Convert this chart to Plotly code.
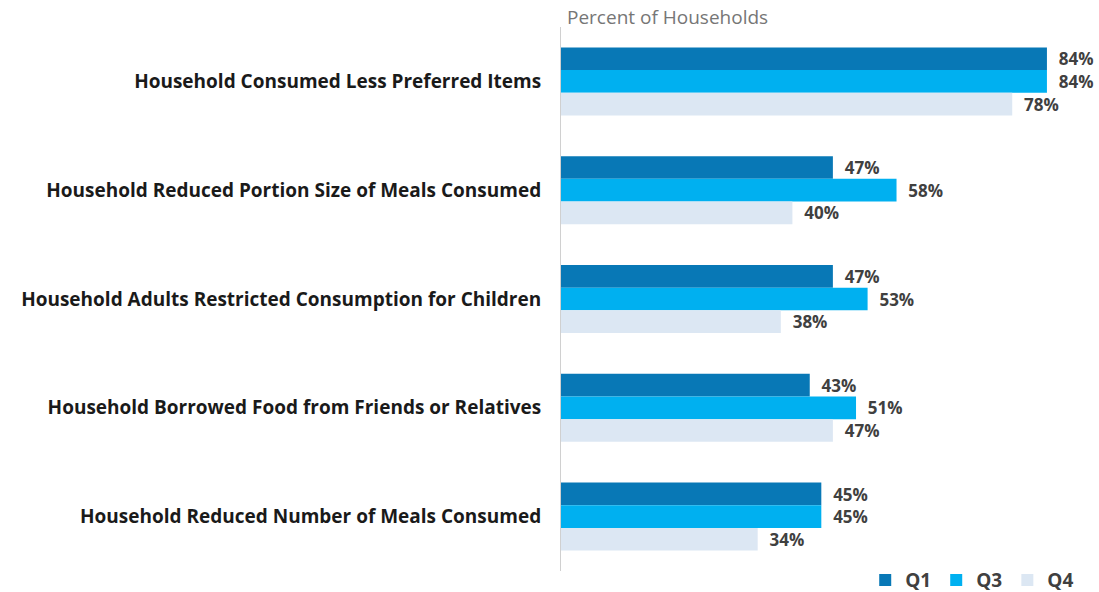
import plotly.graph_objects as go

categories = [
    "Household Consumed Less Preferred Items",
    "Household Reduced Portion Size of Meals Consumed",
    "Household Adults Restricted Consumption for Children",
    "Household Borrowed Food from Friends or Relatives",
    "Household Reduced Number of Meals Consumed",
]
series_names = ["Q1", "Q3", "Q4"]
q1_values = [84, 47, 47, 43, 45]
q3_values = [84, 58, 53, 51, 45]
q4_values = [78, 40, 38, 47, 34]
series_colors = ["#0878B6", "#00B0F0", "#DCE7F3"]

FONT = "Open Sans"

fig = go.Figure()
for name, vals, color in zip(series_names, [q1_values, q3_values, q4_values], series_colors):
    fig.add_trace(go.Bar(
        y=categories,
        x=vals,
        name=name,
        orientation="h",
        marker=dict(color=color, line=dict(width=0)),
        text=[f"  {v}%" for v in vals],
        textposition="outside",
        textfont=dict(family=FONT, size=18, color="#404040", weight="bold"),
        cliponaxis=False,
        hoverinfo="skip",
    ))

fig.update_layout(
    width=1099,
    height=592,
    barmode="group",
    bargap=0.375,
    bargroupgap=0,
    plot_bgcolor="white",
    paper_bgcolor="white",
    margin=dict(l=561, r=0, t=27, b=21, autoexpand=False),
    font=dict(family=FONT),
    xaxis=dict(
        range=[0, 93],
        showgrid=False,
        zeroline=False,
        showticklabels=False,
        showline=False,
        fixedrange=True,
    ),
    yaxis=dict(
        autorange="reversed",
        showgrid=False,
        showline=True,
        linecolor="#D0D0D0",
        linewidth=1,
        ticks="",
        ticklabelstandoff=15,
        tickfont=dict(family=FONT, size=19, color="#1A1A1A", weight="bold"),
    ),
    legend=dict(
        orientation="h",
        xref="container",
        yref="container",
        x=0.982,
        xanchor="right",
        y=0.02,
        yanchor="middle",
        font=dict(family=FONT, size=19, color="#404040", weight="bold"),
        itemwidth=30,
        traceorder="normal",
    ),
    annotations=[dict(
        text="Percent of Households",
        xref="paper", yref="paper",
        x=0, y=1,
        xanchor="left", yanchor="bottom",
        xshift=4, yshift=-5,
        showarrow=False,
        font=dict(family=FONT, size=19, color="#767676"),
    )],
)

fig.write_html("out.html")
